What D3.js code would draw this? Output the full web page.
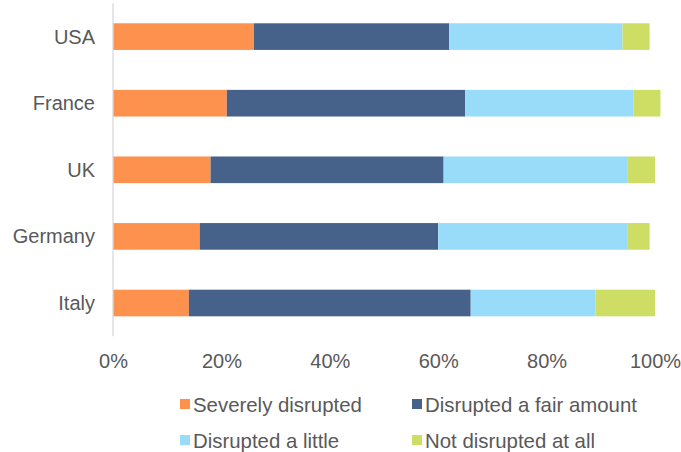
<!DOCTYPE html>
<html>
<head>
<meta charset="utf-8">
<script src="https://cdn.jsdelivr.net/npm/d3@7"></script>
<style>
  html, body { margin: 0; padding: 0; background: #fff; }
  svg { display: block; }
  text { font-family: "Liberation Sans", Arial, sans-serif; fill: #595959; }
</style>
</head>
<body>
<svg id="chart" width="681" height="452"></svg>
<script>
// Countries, top to bottom
const countries = ["USA", "France", "UK", "Germany", "Italy"];
// Response categories, stacked left to right
const seriesNames = ["Severely disrupted", "Disrupted a fair amount", "Disrupted a little", "Not disrupted at all"];
const seriesColors = ["#FC924E", "#47628A", "#99DCFA", "#CEDD63"];
// Shares of respondents (%) per country
const severely   = [26, 21, 18, 16, 14];
const fairAmount = [36, 44, 43, 44, 52];
const aLittle    = [32, 31, 34, 35, 23];
const notAtAll   = [5, 5, 5, 4, 11];
// Axis ticks
const tickValues = [0, 20, 40, 60, 80, 100];

const rows = countries.map((c, i) => ({
  country: c,
  "Severely disrupted": severely[i],
  "Disrupted a fair amount": fairAmount[i],
  "Disrupted a little": aLittle[i],
  "Not disrupted at all": notAtAll[i]
}));

const svg = d3.select("#chart");
const plotLeft = 113, plotRight = 655, plotTop = 3.3, plotBottom = 336.3;

const x = d3.scaleLinear().domain([0, 100]).range([plotLeft, plotRight]);
const y = d3.scaleBand().domain(countries).range([plotTop, plotBottom])
  .paddingInner(0.6).paddingOuter(0.3);
const color = d3.scaleOrdinal().domain(seriesNames).range(seriesColors);

const stacked = d3.stack().keys(seriesNames)(rows);

svg.append("g").selectAll("g")
  .data(stacked)
  .join("g")
  .attr("fill", d => color(d.key))
  .selectAll("rect")
  .data(d => d)
  .join("rect")
  .attr("x", d => x(d[0]))
  .attr("width", d => x(d[1]) - x(d[0]))
  .attr("y", d => y(d.data.country))
  .attr("height", y.bandwidth());

// Vertical category axis line
svg.append("line")
  .attr("x1", plotLeft).attr("x2", plotLeft)
  .attr("y1", plotTop).attr("y2", plotBottom)
  .attr("stroke", "#D9D9D9").attr("stroke-width", 1.3);

// Category labels
svg.append("g").selectAll("text")
  .data(countries)
  .join("text")
  .attr("x", plotLeft - 18)
  .attr("y", d => y(d) + y.bandwidth() / 2 + 7)
  .attr("text-anchor", "end")
  .attr("font-size", 20)
  .text(d => d);

// Percentage axis
const xAxis = d3.axisBottom(x).tickValues(tickValues)
  .tickFormat(d => d + "%").tickSize(0).tickPadding(0);
const gx = svg.append("g").attr("transform", `translate(0, 354)`).call(xAxis);
gx.select(".domain").remove();
gx.selectAll("text")
  .attr("font-size", 20)
  .attr("dy", "0.71em")
  .attr("fill", "#595959")
  .style("font-family", '"Liberation Sans", Arial, sans-serif');

// Legend, two columns by two rows
const legendPos = [[180, 399], [412, 399], [180, 435], [412, 435]];
const legend = svg.append("g").selectAll("g")
  .data(seriesNames)
  .join("g")
  .attr("transform", (d, i) => `translate(${legendPos[i][0]}, ${legendPos[i][1]})`);
legend.append("rect")
  .attr("width", 10).attr("height", 10)
  .attr("fill", d => color(d));
legend.append("text")
  .attr("x", 13).attr("y", 12.5)
  .attr("font-size", 20.4)
  .text(d => d);
</script>
</body>
</html>
